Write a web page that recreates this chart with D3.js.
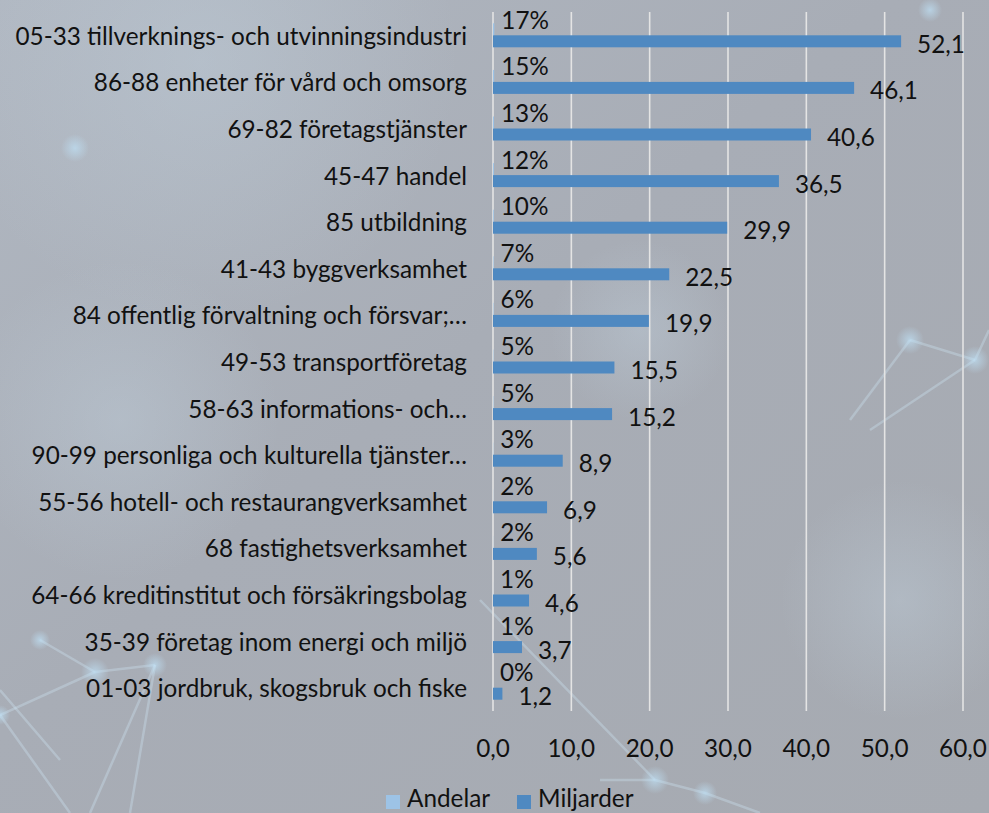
<!DOCTYPE html>
<html>
<head>
<meta charset="utf-8">
<script src="https://cdn.jsdelivr.net/npm/d3@7"></script>
<style>
  html, body { margin: 0; padding: 0; }
  body { width: 989px; height: 813px; overflow: hidden; }
  svg { display: block; font-family: Lato, "Open Sans", sans-serif; }
</style>
</head>
<body>
<svg id="chart" width="989" height="813"></svg>
<script>
const categories = [
  "05-33 tillverknings- och utvinningsindustri",
  "86-88 enheter för vård och omsorg",
  "69-82 företagstjänster",
  "45-47 handel",
  "85 utbildning",
  "41-43 byggverksamhet",
  "84 offentlig förvaltning och försvar;…",
  "49-53 transportföretag",
  "58-63 informations- och…",
  "90-99 personliga och kulturella tjänster…",
  "55-56 hotell- och restaurangverksamhet",
  "68 fastighetsverksamhet",
  "64-66 kreditinstitut och försäkringsbolag",
  "35-39 företag inom energi och miljö",
  "01-03 jordbruk, skogsbruk och fiske"
];
const miljarder = [52.1, 46.1, 40.6, 36.5, 29.9, 22.5, 19.9, 15.5, 15.2, 8.9, 6.9, 5.6, 4.6, 3.7, 1.2];
const andelar = [0.17, 0.15, 0.13, 0.12, 0.10, 0.07, 0.06, 0.05, 0.05, 0.03, 0.02, 0.02, 0.01, 0.01, 0.00];
const xTicks = [0, 10, 20, 30, 40, 50, 60];
const seriesNames = ["Andelar", "Miljarder"];

const W = 989, H = 813;
const FS = 24.3;
const svg = d3.select("#chart");
const defs = svg.append("defs");

// ---- background ----
const lg = defs.append("linearGradient").attr("id", "bg").attr("x1", 0).attr("y1", 0).attr("x2", 1).attr("y2", 1);
lg.append("stop").attr("offset", "0%").attr("stop-color", "#b0b7c1");
lg.append("stop").attr("offset", "45%").attr("stop-color", "#a8adb6");
lg.append("stop").attr("offset", "100%").attr("stop-color", "#a6aab1");
svg.append("rect").attr("width", W).attr("height", H).attr("fill", "url(#bg)");

const glow = defs.append("radialGradient").attr("id", "glow");
glow.append("stop").attr("offset", "0%").attr("stop-color", "#bfe0f5").attr("stop-opacity", 0.7);
glow.append("stop").attr("offset", "100%").attr("stop-color", "#bfe0f5").attr("stop-opacity", 0);
const haze = defs.append("radialGradient").attr("id", "haze");
haze.append("stop").attr("offset", "0%").attr("stop-color", "#c3d3e0").attr("stop-opacity", 0.35);
haze.append("stop").attr("offset", "100%").attr("stop-color", "#c3d3e0").attr("stop-opacity", 0);

const deco = svg.append("g").attr("class", "deco");
[[200, 60, 260], [120, 420, 160], [900, 600, 120], [640, 330, 90]].forEach(d =>
  deco.append("circle").attr("cx", d[0]).attr("cy", d[1]).attr("r", d[2]).attr("fill", "url(#haze)"));
const lines = [
  [0, 715, 70, 813], [0, 715, 95, 672], [95, 672, 40, 640], [95, 672, 155, 665],
  [155, 665, 90, 813], [0, 690, 60, 760], [480, 600, 655, 780], [655, 780, 705, 793],
  [705, 793, 760, 813], [600, 780, 655, 780], [910, 340, 975, 360], [910, 340, 850, 420],
  [975, 360, 870, 430], [975, 360, 989, 330], [155, 665, 130, 813]
];
lines.forEach(l => deco.append("line").attr("x1", l[0]).attr("y1", l[1]).attr("x2", l[2]).attr("y2", l[3])
  .attr("stroke", "#cfe6f3").attr("stroke-opacity", 0.35).attr("stroke-width", 2.5));
[[95, 672, 14], [40, 640, 10], [155, 665, 12], [0, 715, 10], [655, 780, 14], [705, 793, 12],
 [910, 340, 14], [975, 360, 14], [75, 148, 14], [930, 10, 12]].forEach(d =>
  deco.append("circle").attr("cx", d[0]).attr("cy", d[1]).attr("r", d[2]).attr("fill", "url(#glow)"));

// ---- scales ----
const x = d3.scaleLinear().domain([0, 60]).range([493, 963]);
const y = d3.scaleBand().domain(d3.range(categories.length)).range([12, 711]).paddingInner(0).paddingOuter(0);
const barH = 12;
const fmtNum = d => d3.format(".1f")(d).replace(".", ",");
const fmtPct = d => d3.format(".0%")(d);
const textCol = "#111";

// gridlines
svg.append("g").selectAll("line").data(xTicks).join("line")
  .attr("x1", d => x(d)).attr("x2", d => x(d))
  .attr("y1", 12).attr("y2", 711)
  .attr("stroke", "#e4e4e4").attr("stroke-width", 1.6);

// x-axis labels
svg.append("g").selectAll("text").data(xTicks).join("text")
  .attr("x", d => x(d)).attr("y", 747)
  .attr("text-anchor", "middle").attr("dominant-baseline", "central")
  .attr("font-size", FS).attr("fill", textCol)
  .text(d => fmtNum(d));

// category labels
svg.append("g").selectAll("text").data(categories).join("text")
  .attr("x", 467).attr("y", (d, i) => y(i) + y.bandwidth() / 2)
  .attr("text-anchor", "end").attr("dominant-baseline", "central")
  .attr("font-size", FS).attr("fill", textCol)
  .text(d => d);

const yc = i => y(i) + y.bandwidth() / 2;

// Andelar bars (tiny, same axis)
svg.append("g").selectAll("rect").data(andelar).join("rect")
  .attr("x", x(0)).attr("y", (d, i) => yc(i) - barH)
  .attr("width", d => x(d) - x(0)).attr("height", barH)
  .attr("fill", "#9dc3e6");

// Miljarder bars
svg.append("g").selectAll("rect").data(miljarder).join("rect")
  .attr("x", x(0)).attr("y", (d, i) => yc(i))
  .attr("width", d => x(d) - x(0)).attr("height", barH)
  .attr("fill", "#4f89c1");

// labels
svg.append("g").selectAll("text").data(andelar).join("text")
  .attr("x", d => x(d) + 7).attr("y", (d, i) => yc(i) - 16)
  .attr("dominant-baseline", "central")
  .attr("font-size", FS).attr("fill", textCol)
  .text(d => fmtPct(d));

svg.append("g").selectAll("text").data(miljarder).join("text")
  .attr("x", d => x(d) + 16).attr("y", (d, i) => yc(i) + 8)
  .attr("dominant-baseline", "central")
  .attr("font-size", FS).attr("fill", textCol)
  .text(d => fmtNum(d));

// legend
const legend = svg.append("g");
const legX = [386, 517];
const legCol = ["#9dc3e6", "#4f89c1"];
seriesNames.forEach((s, i) => {
  legend.append("rect").attr("x", legX[i]).attr("y", 795).attr("width", 14).attr("height", 14).attr("fill", legCol[i]);
  legend.append("text").attr("x", legX[i] + 21).attr("y", 807)
    .attr("font-size", FS).attr("fill", textCol).text(s);
});
</script>
</body>
</html>
